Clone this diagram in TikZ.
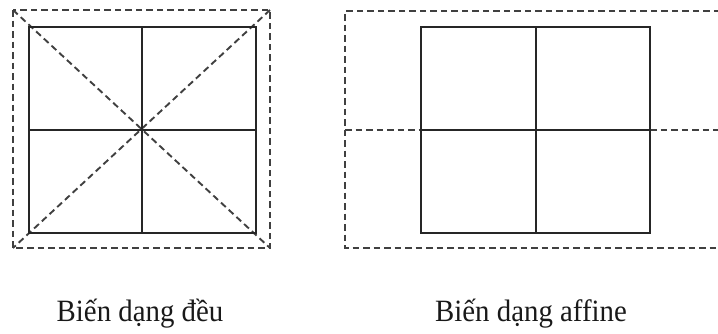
\documentclass[tikz,border=0pt]{standalone}
\usepackage{fontspec}
\setmainfont{Liberation Serif}
\begin{document}
\begin{tikzpicture}[x=1pt,y=-1pt,
  solidline/.style={line width=1.9pt, draw=black!85},
  dashline/.style={line width=1.9pt, draw=black!75, dash pattern=on 6.5pt off 4pt},
  caption/.style={font=\fontsize{31}{36}\selectfont, xscale=0.93, inner sep=0pt, anchor=base, text=black!90}]
\useasboundingbox (0,0) rectangle (718,333);
% ---- left figure: uniform deformation ----
\coordinate (LoTL) at (13,10);
\coordinate (LoBR) at (270,248);
\coordinate (LoTR) at (270,10);
\coordinate (LoBL) at (13,248);
\coordinate (LiTL) at (29,27);
\coordinate (LiBR) at (256,233);
\coordinate (LC) at (142,130);
\draw[dashline] (LoTL) rectangle (LoBR);
\draw[dashline] (LoTL) -- (LoBR);
\draw[dashline] (LoTR) -- (LoBL);
\draw[solidline] (LiTL) rectangle (LiBR);
\draw[solidline] (LC |- LiTL) -- (LC |- LiBR);
\draw[solidline] (LC -| LiTL) -- (LC -| LiBR);
\node[caption] (capL) at (140,321) {Biến dạng đều};
% ---- right figure: affine deformation ----
\coordinate (RoTL) at (345,11);
\coordinate (RoTR) at (720,11);
\coordinate (RoBL) at (345,248);
\coordinate (RoBR) at (720,248);
\coordinate (RiTL) at (421,27);
\coordinate (RiBR) at (650,233);
\coordinate (RC) at (536,130);
\coordinate (RmL) at (345,130);
\coordinate (RmR) at (720,130);
\draw[dashline] (RoTR) -- (RoTL) -- (RoBL) -- (RoBR);
\draw[dashline] (RmL) -- (RC -| RiTL);
\draw[dashline] (RC -| RiBR) -- (RmR);
\draw[solidline] (RiTL) rectangle (RiBR);
\draw[solidline] (RC |- RiTL) -- (RC |- RiBR);
\draw[solidline] (RC -| RiTL) -- (RC -| RiBR);
\node[caption] (capR) at (531,321) {Biến dạng affine};
\end{tikzpicture}
\end{document}
